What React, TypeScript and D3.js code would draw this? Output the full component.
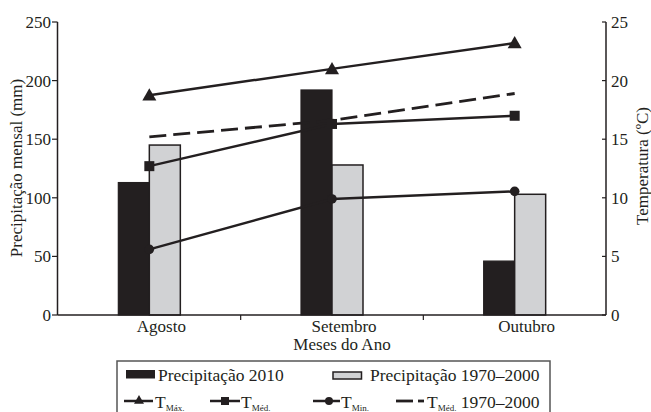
import React from "react";
import * as d3 from "d3";

const months = ["Agosto", "Setembro", "Outubro"];
const precip2010 = [113, 192, 46];
const precipNormal = [145, 128, 103];
const tMax = [18.75, 21.0, 23.2];
const tMed = [12.7, 16.3, 17.0];
const tMin = [5.6, 9.9, 10.55];
const tMedNormal = [15.2, 16.6, 18.9];
const leftTicks = [0, 50, 100, 150, 200, 250];
const rightTicks = [0, 5, 10, 15, 20, 25];

const W = 651;
const H = 412;
const FONT = "Liberation Serif";

export default function App() {
  const x = d3.scaleBand<string>().domain(months).range([58, 606]).paddingInner(0).paddingOuter(0);
  const yL = d3.scaleLinear().domain([0, 250]).range([315, 22]);
  const yR = d3.scaleLinear().domain([0, 25]).range([315, 22]);
  const cx = (m: string) => (x(m) as number) + x.bandwidth() / 2;
  const barW = 31;
  const line = d3
    .line<number>()
    .x((_, i) => cx(months[i]))
    .y((d) => yR(d));

  const tri = (px: number, py: number, s = 7) =>
    `M${px},${py - s} L${px + s},${py + s * 0.75} L${px - s},${py + s * 0.75} Z`;

  const ink = "#231f20";
  const grey = "#d1d2d4";

  return (
    <svg
      width={W}
      height={H}
      style={{ position: "absolute", left: 0, top: 0, background: "#fff" }}
    >
      {/* bars */}
      {months.map((m, i) => (
        <g key={m}>
          <rect
            x={cx(m) - barW}
            y={yL(precip2010[i])}
            width={barW}
            height={yL(0) - yL(precip2010[i])}
            fill={ink}
            stroke={ink}
            strokeWidth={1.2}
          />
          <rect
            x={cx(m)}
            y={yL(precipNormal[i])}
            width={barW}
            height={yL(0) - yL(precipNormal[i])}
            fill={grey}
            stroke={ink}
            strokeWidth={1.5}
          />
        </g>
      ))}

      {/* lines */}
      <path d={line(tMax) || ""} fill="none" stroke={ink} strokeWidth={2.5} />
      <path d={line(tMed) || ""} fill="none" stroke={ink} strokeWidth={2.5} />
      <path d={line(tMin) || ""} fill="none" stroke={ink} strokeWidth={2.5} />
      <path
        d={line(tMedNormal) || ""}
        fill="none"
        stroke={ink}
        strokeWidth={2.8}
        strokeDasharray="17 7"
      />
      {months.map((m, i) => (
        <g key={"mk" + m}>
          <path d={tri(cx(m), yR(tMax[i]))} fill={ink} />
          <rect x={cx(m) - 5} y={yR(tMed[i]) - 5} width={10} height={10} fill={ink} />
          <circle cx={cx(m)} cy={yR(tMin[i])} r={4.8} fill={ink} />
        </g>
      ))}

      {/* axes */}
      <line x1={57.5} x2={57.5} y1={22} y2={315} stroke={ink} strokeWidth={1.5} />
      <line x1={606} x2={606} y1={22} y2={315} stroke={ink} strokeWidth={1.5} />
      <line x1={57.5} x2={606} y1={315} y2={315} stroke={ink} strokeWidth={1.5} />
      {leftTicks.map((t) => (
        <g key={"l" + t}>
          <line x1={52} x2={57.5} y1={yL(t)} y2={yL(t)} stroke={ink} strokeWidth={1.2} />
          <text x={51} y={yL(t)} dy="0.35em" textAnchor="end" fontSize={17} fill={ink} fontFamily={FONT}>
            {t}
          </text>
        </g>
      ))}
      {rightTicks.map((t) => (
        <g key={"r" + t}>
          <line x1={602} x2={606} y1={yR(t)} y2={yR(t)} stroke={ink} strokeWidth={1.2} />
          <text x={611} y={yR(t)} dy="0.35em" textAnchor="start" fontSize={17} fill={ink} fontFamily={FONT}>
            {t}
          </text>
        </g>
      ))}
      {months.slice(1).map((m) => (
        <line key={"xt" + m} x1={x(m) as number} x2={x(m) as number} y1={315} y2={320} stroke={ink} strokeWidth={1.2} />
      ))}
      {months.map((m) => (
        <text key={"xl" + m} x={cx(m) + 12} y={332} textAnchor="middle" fontSize={17} fill={ink} fontFamily={FONT}>
          {m}
        </text>
      ))}
      <text x={342} y={350} textAnchor="middle" fontSize={17} fill={ink} fontFamily={FONT}>
        Meses do Ano
      </text>
      <text
        transform="translate(22,168) rotate(-90)"
        textAnchor="middle"
        fontSize={17}
        fill={ink}
        fontFamily={FONT}
      >
        Precipitação mensal (mm)
      </text>
      <text
        transform="translate(648,166) rotate(-90)"
        textAnchor="middle"
        fontSize={17}
        fill={ink}
        fontFamily={FONT}
      >
        Temperatura (ºC)
      </text>

      {/* legend */}
      <rect x={117} y={361} width={433} height={60} fill="none" stroke="#555" strokeWidth={1.5} />
      <rect x={126} y={370} width={29} height={8.5} fill={ink} />
      <text x={158} y={381} fontSize={17.5} fill={ink} fontFamily={FONT}>
        Precipitação 2010
      </text>
      <rect x={333} y={372} width={28.5} height={7} fill={grey} stroke={ink} strokeWidth={1.5} />
      <text x={370} y={381} fontSize={17.5} fill={ink} fontFamily={FONT}>
        Precipitação 1970–2000
      </text>

      {/* row 2 */}
      <line x1={124} x2={153} y1={401} y2={401} stroke={ink} strokeWidth={2.5} />
      <path d={tri(139, 400, 5)} fill={ink} />
      <text x={155} y={408} fontSize={17.5} fill={ink} fontFamily={FONT}>
        T<tspan fontSize={9} dy={3}>Máx.</tspan>
      </text>

      <line x1={210} x2={240} y1={401} y2={401} stroke={ink} strokeWidth={2.5} />
      <rect x={221} y={397} width={8} height={8} fill={ink} />
      <text x={241} y={408} fontSize={17.5} fill={ink} fontFamily={FONT}>
        T<tspan fontSize={9} dy={3}>Méd.</tspan>
      </text>

      <line x1={313} x2={340} y1={401} y2={401} stroke={ink} strokeWidth={2.5} />
      <circle cx={329} cy={401} r={4} fill={ink} />
      <text x={341} y={408} fontSize={17.5} fill={ink} fontFamily={FONT}>
        T<tspan fontSize={9} dy={3}>Min.</tspan>
      </text>

      <line x1={396} x2={413} y1={401} y2={401} stroke={ink} strokeWidth={2.8} />
      <line x1={418} x2={424} y1={401} y2={401} stroke={ink} strokeWidth={2.8} />
      <text x={427} y={408} fontSize={17.5} fill={ink} fontFamily={FONT}>
        T<tspan fontSize={9} dy={3}>Méd.</tspan>
        <tspan dy={-3}> 1970–2000</tspan>
      </text>
    </svg>
  );
}
